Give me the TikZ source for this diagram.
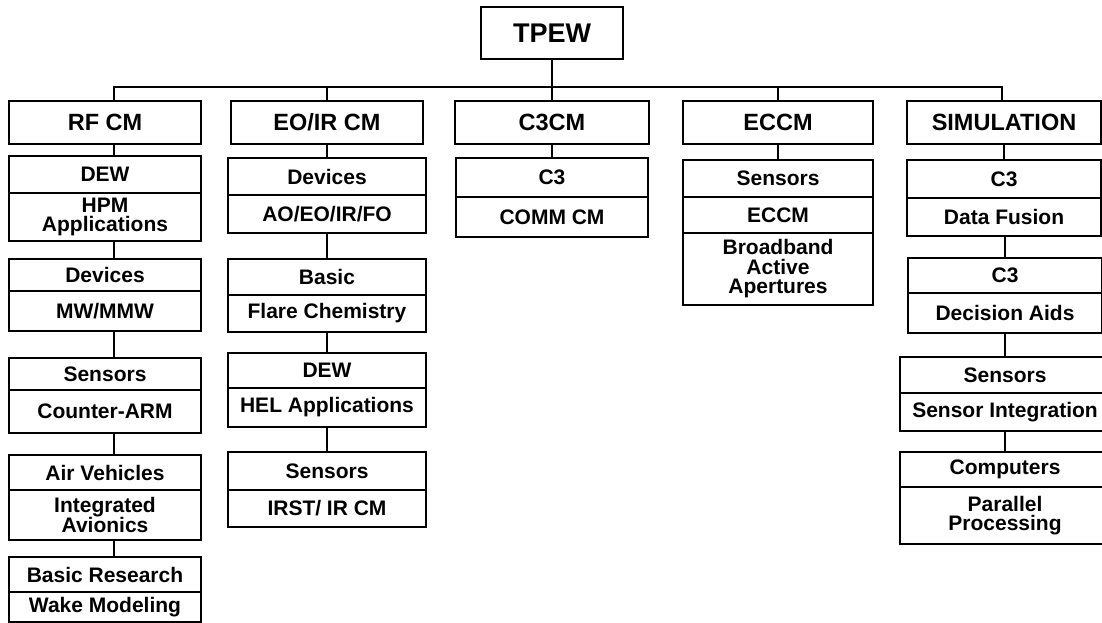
\documentclass[tikz,border=0pt]{standalone}
\usepackage{fontspec}
\setmainfont{Liberation Sans}
\usetikzlibrary{positioning}

\newcommand{\topfont}{\fontsize{27}{27}\selectfont\bfseries}
\newcommand{\headfont}{\fontsize{23.5}{23.5}\selectfont\bfseries}
\newcommand{\cellfont}{\fontsize{21}{19.5}\selectfont\bfseries}

\tikzset{
  boxline/.style={draw, line width=2.8pt, inner sep=0pt, outer sep=0pt},
  head/.style={boxline, font=\headfont, minimum height=43pt, anchor=north},
  cell/.style={boxline, font=\cellfont, align=center},
  link/.style={line width=1.8pt}
}

\begin{document}
\begin{tikzpicture}[x=1pt, y=-1pt]
\useasboundingbox (0,0) rectangle (1102,623);

% root and branches
\node[boxline, font=\topfont, minimum width=142pt, minimum height=52pt] (tpew) at (552,33) {TPEW};
\node[head, minimum width=192pt] (rf) at (105,101) {RF CM};
\node[head, minimum width=192pt] (eoir) at (327,101) {EO/IR CM};
\node[head, minimum width=194pt] (c3cm) at (552,101) {C3CM};
\node[head, minimum width=190pt] (eccm) at (778,101) {ECCM};
\node[head, minimum width=194pt] (sim) at (1004,101) {SIMULATION};

% RF CM
\begin{scope}[cell/.append style={minimum width=192pt}]
\node[cell, minimum height=37pt, anchor=north] (dew) at (105,156) {DEW};
\node[cell, minimum height=48pt, below=0pt of dew] (hpm) {HPM\\Applications};
\node[cell, minimum height=32pt, anchor=north] (devrf) at (105,259) {Devices};
\node[cell, minimum height=40pt, below=0pt of devrf] (mw) {MW/MMW};
\node[cell, minimum height=32pt, anchor=north] (sensrf) at (105,358) {Sensors};
\node[cell, minimum height=43pt, below=0pt of sensrf] (carm) {Counter-ARM};
\node[cell, minimum height=35pt, anchor=north] (air) at (105,455) {Air Vehicles};
\node[cell, minimum height=50pt, below=0pt of air] (avion) {Integrated\\Avionics};
\node[cell, minimum height=35pt, anchor=north] (basrf) at (105,557) {Basic Research};
\node[cell, minimum height=30pt, below=0pt of basrf] (wake) {Wake Modeling};
\end{scope}

% EO/IR CM
\begin{scope}[cell/.append style={minimum width=198pt}]
\node[cell, minimum height=37pt, anchor=north] (deveo) at (327,158) {Devices};
\node[cell, minimum height=38pt, below=0pt of deveo] (aoeo) {AO/EO/IR/FO};
\node[cell, minimum height=36pt, anchor=north] (baseo) at (327,259) {Basic};
\node[cell, minimum height=37pt, below=0pt of baseo] (flare) {Flare Chemistry};
\node[cell, minimum height=35pt, anchor=north] (deweo) at (327,353) {DEW};
\node[cell, minimum height=39pt, below=0pt of deweo] (hel) {HEL Applications};
\node[cell, minimum height=38pt, anchor=north] (senseo) at (327,452) {Sensors};
\node[cell, minimum height=37pt, below=0pt of senseo] (irst) {IRST/ IR CM};
\end{scope}

% C3CM
\begin{scope}[cell/.append style={minimum width=192pt}]
\node[cell, minimum height=39pt, anchor=north] (c3a) at (552,158) {C3};
\node[cell, minimum height=40pt, below=0pt of c3a] (comm) {COMM CM};
\end{scope}

% ECCM
\begin{scope}[cell/.append style={minimum width=190pt}]
\node[cell, minimum height=37pt, anchor=north] (senec) at (778,160) {Sensors};
\node[cell, minimum height=36pt, below=0pt of senec] (eccmb) {ECCM};
\node[cell, minimum height=72pt, below=0pt of eccmb] (broad) {Broadband\\Active\\Apertures};
\end{scope}

% SIMULATION
\begin{scope}[cell/.append style={minimum width=194pt}]
\node[cell, minimum height=38pt, anchor=north] (c3b) at (1004,160) {C3};
\node[cell, minimum height=38pt, below=0pt of c3b] (fusion) {Data Fusion};
\node[cell, minimum height=35pt, anchor=north] (c3c) at (1005,258) {C3};
\node[cell, minimum height=40pt, below=0pt of c3c] (aids) {Decision Aids};
\node[cell, minimum width=210pt, minimum height=36pt, anchor=north] (senssim) at (1005,357) {Sensors};
\node[cell, minimum width=210pt, minimum height=38pt, below=0pt of senssim] (integ) {Sensor Integration};
\node[cell, minimum width=210pt, minimum height=35pt, anchor=north] (comp) at (1005,452) {Computers};
\node[cell, minimum width=210pt, minimum height=57pt, below=0pt of comp] (para) {Parallel\\Processing};
\end{scope}

% connectors
\coordinate (bus) at (552,87);
\draw[link] (tpew) -- (c3cm);
\draw[link] ([xshift=9pt]rf.north) |- (bus) -| ([xshift=-2pt]sim.north);
\foreach \n in {eoir,eccm}
  \draw[link] (\n.north) -- (\n.north |- bus);
\foreach \a/\b in {rf/dew,hpm/devrf,mw/sensrf,carm/air,avion/basrf}
  \draw[link] ([xshift=9pt]\a.south) -- ([xshift=9pt]\b.north);
\foreach \a/\b in {eoir/deveo,aoeo/baseo,flare/deweo,hel/senseo,c3cm/c3a,eccm/senec,sim/c3b,fusion/c3c,aids/senssim,integ/comp}
  \draw[link] (\a.south -| \b.north) -- (\b.north);
\end{tikzpicture}
\end{document}
